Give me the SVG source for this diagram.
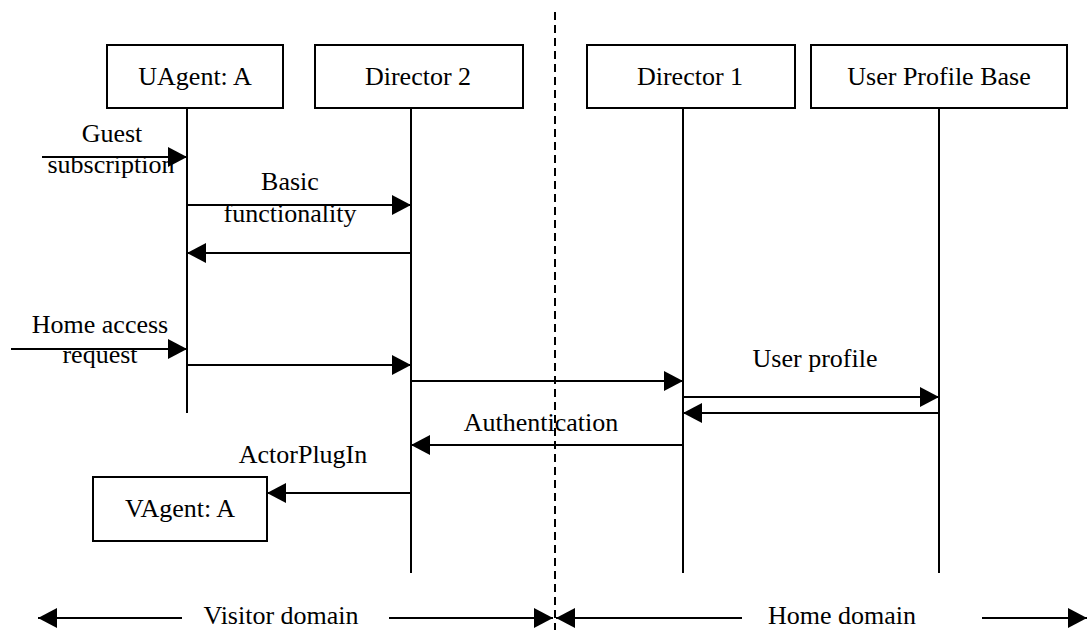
<svg xmlns="http://www.w3.org/2000/svg" width="1088" height="630" viewBox="0 0 1088 630">
<style>
text{font-family:"Liberation Serif","Times New Roman",serif;font-size:26px;fill:#000;text-anchor:middle}
.box{fill:#fff;stroke:#000;stroke-width:2}
.life{stroke:#000;stroke-width:2;fill:none}
.msg{stroke:#000;stroke-width:2;fill:none;marker-end:url(#ah)}
.dash{stroke:#000;stroke-width:2;stroke-dasharray:8 5;fill:none}
</style>
<defs>
<marker id="ah" markerUnits="userSpaceOnUse" markerWidth="20" markerHeight="20" refX="19" refY="10" orient="auto">
<path d="M0,0 L19,10 L0,20 z" fill="#000"/>
</marker>
</defs>
<line class="dash" x1="555" y1="12" x2="555" y2="630"/>
<g id="uagent">
<rect class="box" x="107" y="45" width="176" height="63"/>
<text x="195" y="85">UAgent: A</text>
<line class="life" x1="187" y1="108" x2="187" y2="413"/>
</g>
<g id="director2">
<rect class="box" x="315" y="45" width="208" height="63"/>
<text x="418" y="85">Director 2</text>
<line class="life" x1="411" y1="108" x2="411" y2="573"/>
</g>
<g id="director1">
<rect class="box" x="587" y="45" width="208" height="63"/>
<text x="690" y="85">Director 1</text>
<line class="life" x1="683" y1="108" x2="683" y2="573"/>
</g>
<g id="upb">
<rect class="box" x="811" y="45" width="256" height="63"/>
<text x="939" y="85">User Profile Base</text>
<line class="life" x1="939" y1="108" x2="939" y2="573"/>
</g>
<g id="vagent">
<rect class="box" x="93" y="477" width="174" height="64"/>
<text x="180" y="517">VAgent: A</text>
</g>
<g id="connectors">
<line class="msg" x1="42" y1="157" x2="187" y2="157"/>
<line class="msg" x1="187" y1="205" x2="411" y2="205"/>
<line class="msg" x1="411" y1="253" x2="187" y2="253"/>
<line class="msg" x1="11" y1="349" x2="187" y2="349"/>
<line class="msg" x1="187" y1="365" x2="411" y2="365"/>
<line class="msg" x1="411" y1="381" x2="683" y2="381"/>
<line class="msg" x1="683" y1="397" x2="939" y2="397"/>
<line class="msg" x1="939" y1="413" x2="683" y2="413"/>
<line class="msg" x1="683" y1="445" x2="411" y2="445"/>
<line class="msg" x1="411" y1="493" x2="267" y2="493"/>
<line class="msg" x1="182" y1="618" x2="38" y2="618"/>
<line class="msg" x1="389" y1="618" x2="553" y2="618"/>
<line class="msg" x1="742" y1="618" x2="556" y2="618"/>
<line class="msg" x1="982" y1="618" x2="1087" y2="618"/>
</g>
<g id="labels">
<text x="112" y="142">Guest</text>
<text x="111" y="173">subscription</text>
<text x="290" y="190">Basic</text>
<text x="290" y="222">functionality</text>
<text x="100" y="333">Home access</text>
<text x="100" y="363">request</text>
<text x="815" y="367">User profile</text>
<text x="541" y="431">Authentication</text>
<text x="303" y="463">ActorPlugIn</text>
<text x="281" y="624">Visitor domain</text>
<text x="842" y="624">Home domain</text>
</g>
</svg>
